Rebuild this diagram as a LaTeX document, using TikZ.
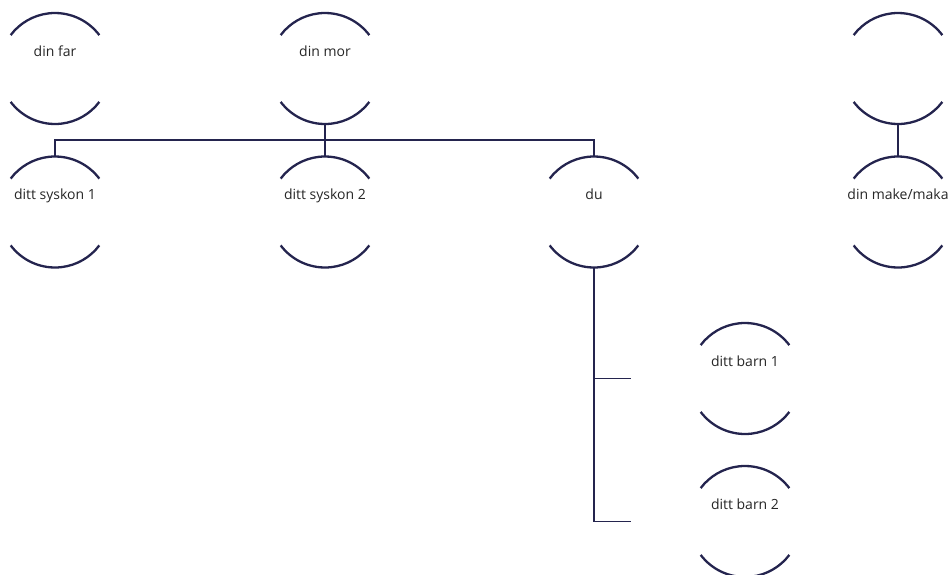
\documentclass[tikz,border=0pt]{standalone}
\usepackage{fontspec}
\setmainfont{Open Sans}
\definecolor{navy}{RGB}{36,36,78}
\tikzstyle{person}=[rectangle,draw=none,inner sep=0pt,minimum width=111pt,minimum height=111pt,text height=10pt,text depth=34.6pt,font=\fontsize{14}{16}\selectfont,text=black!85]
\tikzstyle{rim}=[draw=navy,line width=2.3pt]
\tikzstyle{link}=[draw=navy,line width=1.2pt]

\begin{document}
\begin{tikzpicture}[x=1pt,y=-1pt]
\useasboundingbox (0,0) rectangle (951,574);
% parents
\node[person] (far) at (55,68.5) {din far};
\node[person] (mor) at (325,68.5) {din mor};
\node[person] (svarfor) at (898,68.5) {};
% siblings, you, partner
\node[person] (syskon1) at (55,212) {ditt syskon 1};
\node[person] (syskon2) at (325,212) {ditt syskon 2};
\node[person] (du) at (594,212) {du};
\node[person] (make) at (898,212) {din make/maka};
% children
\node[person] (barn1) at (745,378.5) {ditt barn 1};
\node[person] (barn2) at (745,521.5) {ditt barn 2};
\coordinate (bar) at (0,140);
\coordinate (end1) at (631,378.5);
\coordinate (end2) at (631,521.5);

\foreach \p in {far,mor,svarfor,syskon1,syskon2,du,make,barn1,barn2}
{
  \draw[rim] ([shift={(37:55.5pt)}]\p.center) arc[start angle=37,end angle=143,radius=55.5pt];
  \draw[rim] ([shift={(217:55.5pt)}]\p.center) arc[start angle=217,end angle=323,radius=55.5pt];
}

\draw[link] (syskon1.north) |- (du.north |- bar) -- (du.north);
\draw[link] (mor.south) -- (syskon2.north);
\draw[link] (svarfor.south) -- (make.north);
\draw[link] (du.south) |- (end1);
\draw[link] (du.south) |- (end2);
\end{tikzpicture}
\end{document}
